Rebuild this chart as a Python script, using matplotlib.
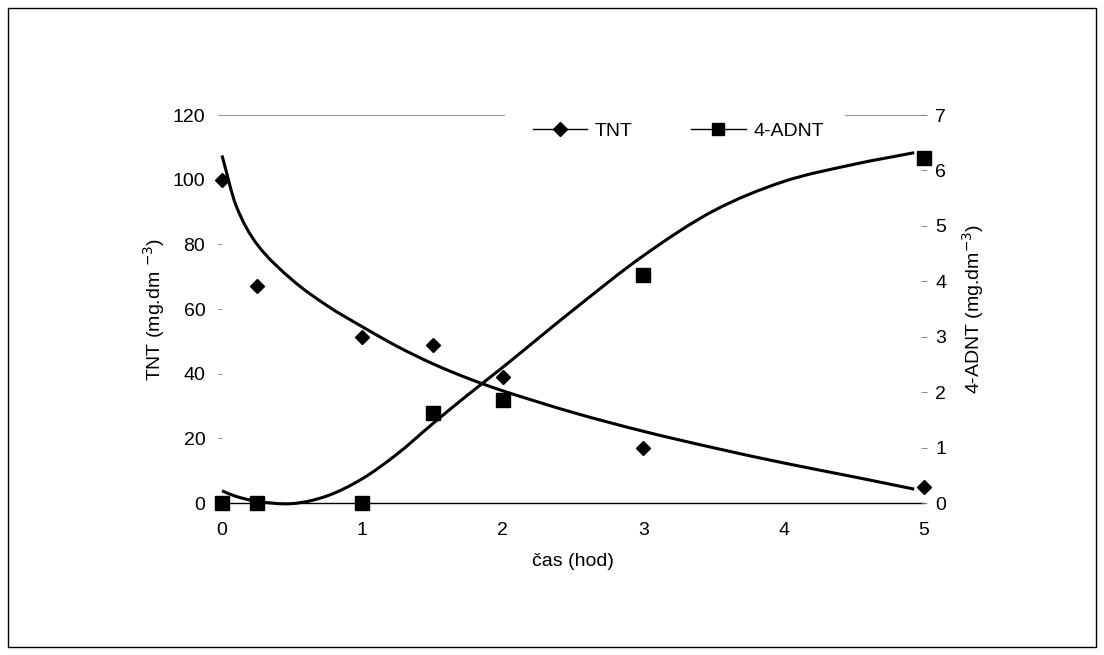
import numpy as np
import matplotlib
matplotlib.use('Agg')
import matplotlib.pyplot as plt
from matplotlib.lines import Line2D
from matplotlib.patches import Rectangle, PathPatch
from matplotlib.path import Path

plt.rcParams['font.family'] = ['Liberation Sans', 'DejaVu Sans']

#namerene hodnoty
cas = [0, 0.25, 1, 1.5, 2, 3, 5]
tnt = [100, 67, 51.5, 49, 39, 17, 5]
adnt = [0, 0, 0, 1.63, 1.86, 4.12, 6.23]

#modelove krivky
cas_fit = [0, 0.1, 0.25, 0.5, 0.75, 1, 1.25, 1.5, 1.75, 2, 2.5, 3, 3.5, 4, 4.5, 4.93]
tnt_fit = [107.5, 92, 80, 69, 61, 54.5, 48.4, 43.1, 38.6, 34.7, 28.0, 22.2, 17.1, 12.4, 8.1, 4.3]
adnt_fit = [0.22, 0.12, 0.03, -0.01, 0.13, 0.44, 0.89, 1.43, 1.95, 2.45, 3.48, 4.46, 5.27, 5.8, 6.11, 6.32]

x_ticks = [0, 1, 2, 3, 4, 5]
tnt_ticks = [0, 20, 40, 60, 80, 100, 120]
adnt_ticks = [0, 1, 2, 3, 4, 5, 6, 7]

fs = 14


def smooth_path(x, y):
    # hladka cara pres body (bezier, jako "smoothed line" v Excelu)
    x = np.asarray(x, float)
    y = np.asarray(y, float)
    n = len(x)
    m = np.zeros(n)
    m[0] = (y[1] - y[0]) / (x[1] - x[0])
    m[-1] = (y[-1] - y[-2]) / (x[-1] - x[-2])
    for i in range(1, n - 1):
        m[i] = (y[i + 1] - y[i - 1]) / (x[i + 1] - x[i - 1])
    verts = [(x[0], y[0])]
    codes = [Path.MOVETO]
    for i in range(n - 1):
        h = x[i + 1] - x[i]
        verts += [(x[i] + h / 3, y[i] + m[i] * h / 3),
                  (x[i + 1] - h / 3, y[i + 1] - m[i + 1] * h / 3),
                  (x[i + 1], y[i + 1])]
        codes += [Path.CURVE4] * 3
    return Path(verts, codes)


fig = plt.figure(figsize=(11.04, 6.55), dpi=100)
fig.patches.append(Rectangle((0.007, 0.012), 0.986, 0.976, transform=fig.transFigure,
                             fill=False, edgecolor='black', linewidth=1))
ax = fig.add_axes([0.2011, 0.232, 0.6359, 0.5924])
ax2 = ax.twinx()

ax.add_patch(PathPatch(smooth_path(cas_fit, tnt_fit), facecolor='none', edgecolor='black',
                       lw=2.2, zorder=3, capstyle='butt', clip_on=False))
ax2.add_patch(PathPatch(smooth_path(cas_fit, adnt_fit), facecolor='none', edgecolor='black',
                        lw=2.2, zorder=3, capstyle='butt', clip_on=False))

ax.plot(cas, tnt, linestyle='none', marker='D', markersize=7, color='black', clip_on=False, zorder=4)
ax2.plot(cas, adnt, linestyle='none', marker='s', markersize=9.5, color='black', clip_on=False, zorder=4)

ax.set_xlim(0, 5)
ax.set_ylim(0, 120)
ax2.set_ylim(0, 7)
ax.set_xticks(x_ticks)
ax.set_yticks(tnt_ticks)
ax2.set_yticks(adnt_ticks)

for a in (ax, ax2):
    for s in ('left', 'right', 'bottom', 'top'):
        a.spines[s].set_visible(False)
ax.spines['bottom'].set_visible(True)
ax.spines['bottom'].set_linewidth(1)
ax.spines['top'].set_visible(True)
ax.spines['top'].set_color('#999999')
ax.spines['top'].set_linewidth(0.8)

ax.tick_params(axis='x', length=0, pad=14, labelsize=fs)
ax.tick_params(axis='y', length=3, width=0.6, color='#777777', pad=9, labelsize=fs)
ax2.tick_params(axis='y', length=4, width=0.6, color='#777777', direction='inout', pad=6, labelsize=fs)

ax.set_xlabel('čas (hod)', fontsize=fs, labelpad=10)
ax.set_ylabel('TNT (mg.dm $^{-3}$)', fontsize=fs, labelpad=4)
ax2.set_ylabel('4-ADNT (mg.dm$^{-3}$)', fontsize=fs, labelpad=10)

# bila mezera v horni care pod legendou
ax2.add_patch(Rectangle((0.403, 0.97), 0.484, 0.06, transform=ax2.transAxes,
                        facecolor='white', edgecolor='none', clip_on=False, zorder=2.6))

handles = [Line2D([], [], color='black', lw=1, marker='D', markersize=7),
           Line2D([], [], color='black', lw=1, marker='s', markersize=8)]
leg = ax2.legend(handles, ['TNT', '4-ADNT'], ncol=2, loc='center', bbox_to_anchor=(0.65, 0.958),
                 frameon=False, fontsize=fs, handlelength=2.8, handletextpad=0.4,
                 columnspacing=3.0, borderpad=0.2)

fig.savefig('out.png', dpi=100)
